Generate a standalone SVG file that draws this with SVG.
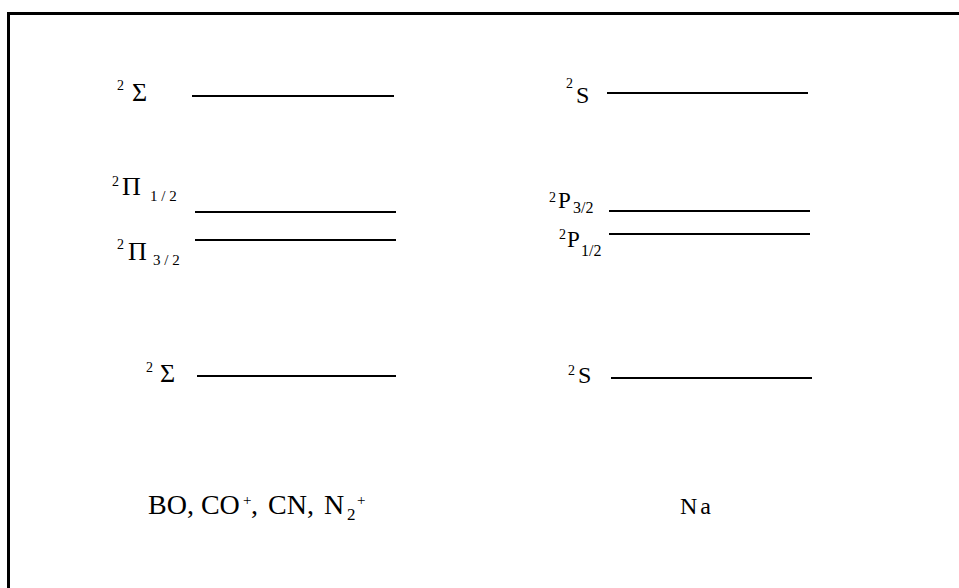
<svg xmlns="http://www.w3.org/2000/svg" width="959" height="588" viewBox="0 0 959 588">
<style>
.lvl{stroke:#000;stroke-width:2;fill:none}
text{font-family:"Liberation Serif","Times New Roman",serif;fill:#000}
</style>
<rect x="8.5" y="13.5" width="960" height="600" fill="#fff" stroke="#000" stroke-width="3"/>
<g id="connectors">
<line class="lvl" x1="192" y1="96" x2="394" y2="96"/>
<line class="lvl" x1="195" y1="212" x2="396" y2="212"/>
<line class="lvl" x1="195" y1="240" x2="396" y2="240"/>
<line class="lvl" x1="197" y1="376" x2="396" y2="376"/>
<line class="lvl" x1="607" y1="93" x2="808" y2="93"/>
<line class="lvl" x1="609" y1="211" x2="810" y2="211"/>
<line class="lvl" x1="609" y1="234" x2="810" y2="234"/>
<line class="lvl" x1="611" y1="378" x2="812" y2="378"/>
</g>
<g id="mol-sigma-upper"><text font-size="14" x="117" y="90">2</text><text font-size="26" x="132" y="101">Σ</text></g>
<g id="mol-pi-half"><text font-size="14" x="112" y="186">2</text><text font-size="26" x="122" y="195">Π</text><text font-size="15" x="150" y="201">1 / 2</text></g>
<g id="mol-pi-threehalf"><text font-size="14" x="117" y="249">2</text><text font-size="26" x="128" y="260">Π</text><text font-size="15" x="153" y="265">3 / 2</text></g>
<g id="mol-sigma-lower"><text font-size="14" x="146" y="372">2</text><text font-size="26" x="160" y="382">Σ</text></g>
<g id="na-s-upper"><text font-size="14" x="566" y="88">2</text><text font-size="24" x="576" y="103">S</text></g>
<g id="na-p-threehalf"><text font-size="14" x="549" y="202">2</text><text font-size="23" x="558" y="208">P</text><text font-size="16" x="573" y="213">3/2</text></g>
<g id="na-p-half"><text font-size="14" x="559" y="239">2</text><text font-size="23" x="567" y="247">P</text><text font-size="16" x="581" y="256">1/2</text></g>
<g id="na-s-lower"><text font-size="14" x="568" y="375">2</text><text font-size="24" x="578" y="383">S</text></g>
<g id="label-mol"><text font-size="28" x="148" y="514">BO, CO<tspan x="243" dy="-9" font-size="15">+</tspan><tspan x="251" dy="9" word-spacing="3">, CN, N</tspan><tspan x="347" dy="6" font-size="17">2</tspan><tspan x="357" dy="-15" font-size="15">+</tspan></text></g>
<g id="label-na"><text font-size="24" x="680" y="514" letter-spacing="3">Na</text></g>
</svg>
